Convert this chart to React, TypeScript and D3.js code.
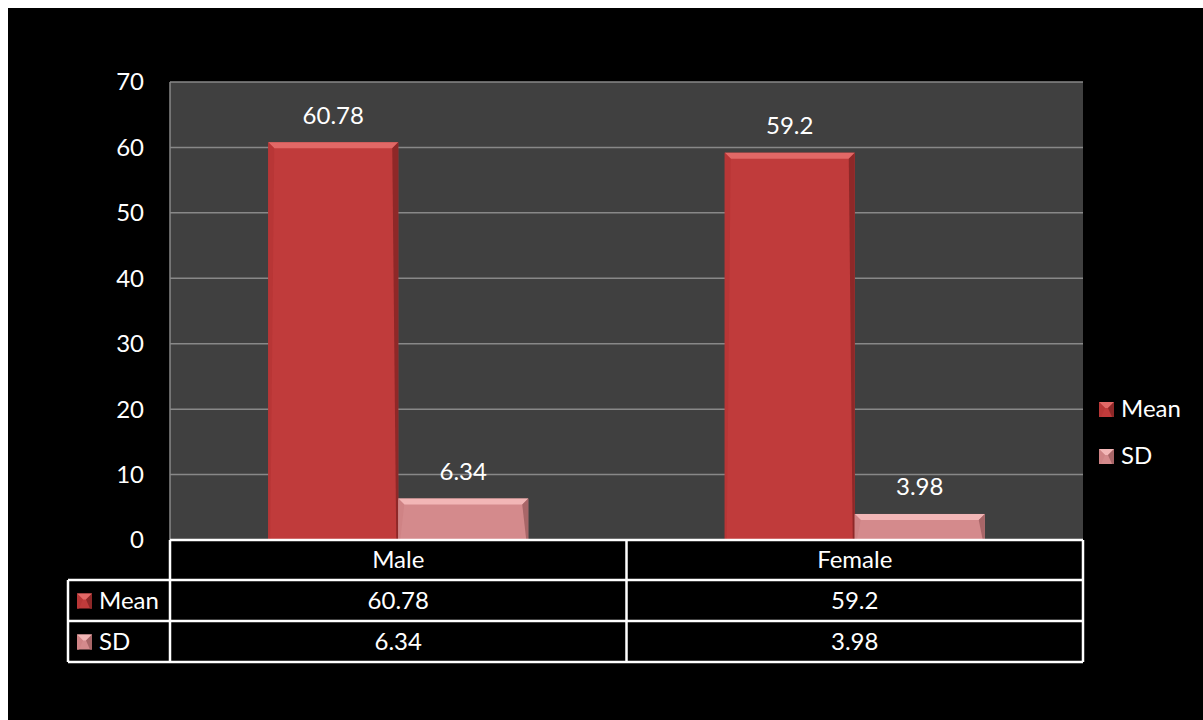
import React from "react";
import * as d3 from "d3";

const categories = ["Male", "Female"];
const seriesNames = ["Mean", "SD"];
const meanValues = [60.78, 59.2];
const sdValues = [6.34, 3.98];
const yTicks = [0, 10, 20, 30, 40, 50, 60, 70];

const W = 1203;
const H = 720;
const plot = { left: 170, right: 1083, top: 82, bottom: 540 };
const FONT = "Lato, 'Open Sans', sans-serif";
const FS = 24;

const seriesStyle = [
  { base: "#c03b3b", light: "#e26866", dark: "#8e2828", side: "#b83636" },
  { base: "#d48a8c", light: "#f2b6b6", dark: "#a86668", side: "#cf8385" },
];

function BevelBar({ x, y, w, h, s }: { x: number; y: number; w: number; h: number; s: (typeof seriesStyle)[0] }) {
  const b = Math.min(6, h / 2, w / 2);
  const e = Math.min(2, h / 2);
  return (
    <g>
      <rect x={x} y={y} width={w} height={h} fill={s.base} />
      <polygon points={`${x},${y} ${x + w},${y} ${x + w - b},${y + b} ${x + b},${y + b}`} fill={s.light} />
      <polygon points={`${x},${y} ${x + b},${y + b} ${x + e},${y + h} ${x},${y + h}`} fill={s.side} />
      <polygon points={`${x + w},${y} ${x + w},${y + h} ${x + w - e},${y + h} ${x + w - b},${y + b}`} fill={s.dark} />
    </g>
  );
}

export default function App() {
  const y = d3.scaleLinear().domain([0, 70]).range([plot.bottom, plot.top]);
  const x0 = d3.scaleBand<string>().domain(categories).range([plot.left, plot.right]).paddingInner(0).paddingOuter(0);
  const barW = 130;
  const series = [meanValues, sdValues];

  const rows = [
    { top: 540, bottom: 580 },
    { top: 580, bottom: 621 },
    { top: 621, bottom: 662 },
  ];
  const tableLeft = 68;

  return (
    <svg width={W} height={H} style={{ position: "absolute", left: 0, top: 0 }}>
      <rect x={8} y={8} width={W} height={H} fill="#000" />
      <rect x={plot.left} y={plot.top} width={plot.right - plot.left} height={plot.bottom - plot.top} fill="#404040" />
      {yTicks.map((t) => (
        <line key={t} x1={plot.left} x2={plot.right} y1={y(t)} y2={y(t)} stroke="#888" strokeWidth={1.5} />
      ))}
      <line x1={plot.left} x2={plot.left} y1={plot.top} y2={plot.bottom} stroke="#888" strokeWidth={1.5} />
      {yTicks.map((t) => (
        <text key={t} x={144} y={y(t)} dy="0.35em" textAnchor="end" fill="#fff" fontSize={FS} fontFamily={FONT}>
          {t}
        </text>
      ))}
      {categories.map((c, ci) => {
        const center = (x0(c) as number) + x0.bandwidth() / 2;
        return series.map((vals, si) => {
          const v = vals[ci];
          const bx = center - barW + si * barW;
          const by = y(v);
          return (
            <g key={`${c}-${si}`}>
              <BevelBar x={bx} y={by} w={barW} h={plot.bottom - by} s={seriesStyle[si]} />
              <text x={bx + barW / 2} y={by - 27} dy="0.35em" textAnchor="middle" fill="#fff" fontSize={FS} fontFamily={FONT}>
                {v}
              </text>
            </g>
          );
        });
      })}
      {/* legend */}
      {seriesNames.map((n, i) => {
        const ly = 409 + i * 47;
        const s = seriesStyle[i];
        return (
          <g key={n}>
            <BevelBar x={1099} y={ly - 7} w={15} h={15} s={s} />
            <text x={1121} y={ly} dy="0.35em" fill="#fff" fontSize={FS} fontFamily={FONT}>
              {n}
            </text>
          </g>
        );
      })}
      {/* data table */}
      <g stroke="#fff" strokeWidth={2.5} fill="none">
        <line x1={plot.left} x2={plot.right} y1={rows[0].top} y2={rows[0].top} />
        <line x1={tableLeft} x2={plot.right} y1={rows[1].top} y2={rows[1].top} />
        <line x1={tableLeft} x2={plot.right} y1={rows[2].top} y2={rows[2].top} />
        <line x1={tableLeft} x2={plot.right} y1={rows[2].bottom} y2={rows[2].bottom} />
        <line x1={tableLeft} x2={tableLeft} y1={rows[1].top} y2={rows[2].bottom} />
        <line x1={plot.left} x2={plot.left} y1={rows[0].top} y2={rows[2].bottom} />
        <line x1={(x0("Female") as number)} x2={(x0("Female") as number)} y1={rows[0].top} y2={rows[2].bottom} />
        <line x1={plot.right} x2={plot.right} y1={rows[0].top} y2={rows[2].bottom} />
      </g>
      {categories.map((c) => {
        const cx = (x0(c) as number) + x0.bandwidth() / 2;
        return (
          <g key={c}>
            <text x={cx} y={(rows[0].top + rows[0].bottom) / 2} dy="0.35em" textAnchor="middle" fill="#fff" fontSize={FS} fontFamily={FONT}>
              {c}
            </text>
          </g>
        );
      })}
      {series.map((vals, si) => {
        const r = rows[si + 1];
        const cy = (r.top + r.bottom) / 2;
        return (
          <g key={si}>
            <BevelBar x={77} y={cy - 7} w={15} h={15} s={seriesStyle[si]} />
            <text x={99} y={cy} dy="0.35em" fill="#fff" fontSize={FS} fontFamily={FONT}>
              {seriesNames[si]}
            </text>
            {categories.map((c, ci) => (
              <text key={c} x={(x0(c) as number) + x0.bandwidth() / 2} y={cy} dy="0.35em" textAnchor="middle" fill="#fff" fontSize={FS} fontFamily={FONT}>
                {vals[ci]}
              </text>
            ))}
          </g>
        );
      })}
    </svg>
  );
}
